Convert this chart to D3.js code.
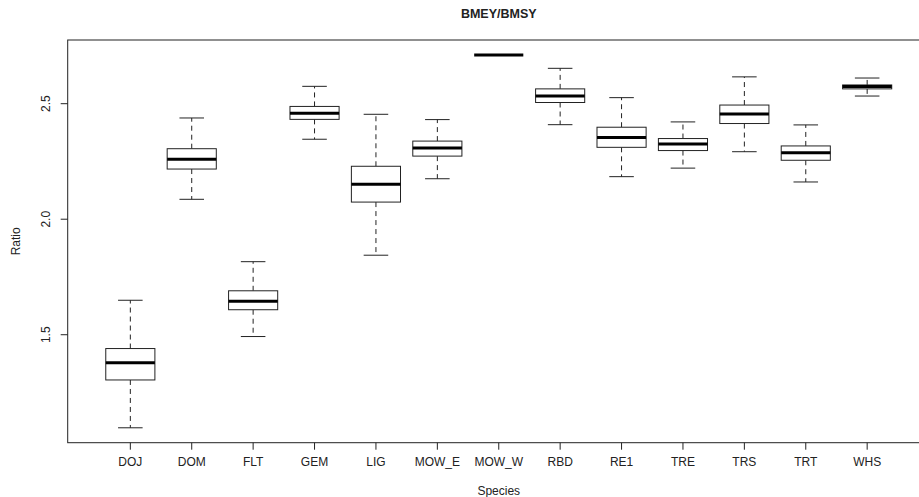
<!DOCTYPE html>
<html>
<head>
<meta charset="utf-8">
<script src="https://cdn.jsdelivr.net/npm/d3@7"></script>
<style>
  html, body { margin: 0; padding: 0; background: #fff; }
  svg { display: block; font-family: "Liberation Sans", Arial, sans-serif; }
</style>
</head>
<body>
<svg id="chart" width="919" height="497"></svg>
<script>
// ---- data ----
const species = ["DOJ","DOM","FLT","GEM","LIG","MOW_E","MOW_W","RBD","RE1","TRE","TRS","TRT","WHS"];
const lowerWhisker = [1.095, 2.084, 1.490, 2.344, 1.842, 2.173, 2.709, 2.407, 2.182, 2.219, 2.290, 2.159, 2.531];
const q1           = [1.302, 2.215, 1.606, 2.430, 2.072, 2.271, 2.709, 2.503, 2.309, 2.295, 2.412, 2.253, 2.562];
const median       = [1.376, 2.257, 1.643, 2.456, 2.149, 2.306, 2.709, 2.531, 2.351, 2.323, 2.453, 2.286, 2.572];
const q3           = [1.438, 2.303, 1.688, 2.486, 2.227, 2.336, 2.709, 2.562, 2.396, 2.347, 2.492, 2.315, 2.579];
const upperWhisker = [1.647, 2.436, 1.814, 2.573, 2.452, 2.429, 2.709, 2.651, 2.524, 2.419, 2.614, 2.406, 2.609];
const yTicks = [1.5, 2.0, 2.5];
const yTickLabels = ["1.5", "2.0", "2.5"];
const title = "BMEY/BMSY";
const xTitle = "Species";
const yTitle = "Ratio";

const rows = species.map((s, i) => ({
  s, lo: lowerWhisker[i], q1: q1[i], med: median[i], q3: q3[i], hi: upperWhisker[i]
}));

// ---- layout ----
const svg = d3.select("#chart");
const plotLeft = 67.7, plotRight = 929.8, plotTop = 40, plotBottom = 442.7;
const ink = "#222";
const fs = 12;

// R-style x: positions 1..n, xlim [0.5, n+0.5] expanded by 4%
const n = species.length;
const xIdx = d3.scaleLinear()
  .domain([0.5 - 0.04 * n, n + 0.5 + 0.04 * n])
  .range([plotLeft, plotRight]);
const x = d3.scaleBand().domain(species)
  .range([xIdx(0.5), xIdx(n + 0.5)]).padding(0);
const cx = s => x(s) + x.bandwidth() / 2;
const boxW = x.bandwidth() * 0.8;
const stapleW = boxW * 0.5;

const ymin = d3.min(lowerWhisker), ymax = d3.max(upperWhisker);
const pad = (ymax - ymin) * 0.04;
const y = d3.scaleLinear().domain([ymin - pad, ymax + pad]).range([plotBottom, plotTop]);

// ---- plot frame ----
svg.append("rect")
  .attr("x", plotLeft).attr("y", plotTop)
  .attr("width", plotRight - plotLeft).attr("height", plotBottom - plotTop)
  .attr("fill", "none").attr("stroke", ink).attr("stroke-width", 1);

// ---- axes ----
const xAxis = d3.axisBottom(x).tickSize(7).tickPadding(8);
const gx = svg.append("g").attr("transform", `translate(0,${plotBottom})`).call(xAxis);
gx.select(".domain").remove();
gx.selectAll("line").attr("stroke", ink);
gx.selectAll("text").attr("fill", "#222").attr("font-size", fs)
  .attr("font-family", "Liberation Sans, Arial, sans-serif");

const yAxis = d3.axisLeft(y).tickValues(yTicks)
  .tickFormat((d, i) => yTickLabels[i]).tickSize(7).tickPadding(0);
const gy = svg.append("g").attr("transform", `translate(${plotLeft},0)`).call(yAxis);
gy.select(".domain").remove();
gy.selectAll("line").attr("stroke", ink);
gy.selectAll("text")
  .attr("fill", "#222").attr("font-size", fs)
  .attr("font-family", "Liberation Sans, Arial, sans-serif")
  .attr("text-anchor", "middle")
  .attr("dy", null)
  .attr("x", null)
  .attr("transform", "translate(-22,0) rotate(-90)")
  .attr("dominant-baseline", "central");

// ---- boxes ----
const g = svg.append("g");
const bx = g.selectAll("g.box").data(rows).join("g").attr("class", "box");

// whiskers (dashed)
bx.append("line")
  .attr("x1", d => cx(d.s)).attr("x2", d => cx(d.s))
  .attr("y1", d => y(d.q3)).attr("y2", d => y(d.hi))
  .attr("stroke", ink).attr("stroke-width", 1).attr("stroke-dasharray", "5,4");
bx.append("line")
  .attr("x1", d => cx(d.s)).attr("x2", d => cx(d.s))
  .attr("y1", d => y(d.q1)).attr("y2", d => y(d.lo))
  .attr("stroke", ink).attr("stroke-width", 1).attr("stroke-dasharray", "5,4");
// staples
bx.append("line")
  .attr("x1", d => cx(d.s) - stapleW / 2).attr("x2", d => cx(d.s) + stapleW / 2)
  .attr("y1", d => y(d.hi)).attr("y2", d => y(d.hi))
  .attr("stroke", ink).attr("stroke-width", 1);
bx.append("line")
  .attr("x1", d => cx(d.s) - stapleW / 2).attr("x2", d => cx(d.s) + stapleW / 2)
  .attr("y1", d => y(d.lo)).attr("y2", d => y(d.lo))
  .attr("stroke", ink).attr("stroke-width", 1);
// box
bx.append("rect")
  .attr("x", d => cx(d.s) - boxW / 2).attr("width", boxW)
  .attr("y", d => y(d.q3)).attr("height", d => y(d.q1) - y(d.q3))
  .attr("fill", "#fff").attr("stroke", ink).attr("stroke-width", 1);
// median
bx.append("line")
  .attr("x1", d => cx(d.s) - boxW / 2).attr("x2", d => cx(d.s) + boxW / 2)
  .attr("y1", d => y(d.med)).attr("y2", d => y(d.med))
  .attr("stroke", "#000").attr("stroke-width", 3);

// ---- titles ----
const midX = (plotLeft + plotRight) / 2;
svg.append("text").attr("x", midX).attr("y", 18)
  .attr("text-anchor", "middle").attr("font-weight", "bold").attr("font-size", 12.5)
  .attr("fill", "#222").text(title);
svg.append("text").attr("x", midX).attr("y", 495)
  .attr("text-anchor", "middle").attr("font-size", fs).attr("fill", "#222").text(xTitle);
svg.append("text")
  .attr("transform", `translate(20,${(plotTop + plotBottom) / 2}) rotate(-90)`)
  .attr("text-anchor", "middle").attr("font-size", fs).attr("fill", "#222").text(yTitle);
</script>
</body>
</html>
